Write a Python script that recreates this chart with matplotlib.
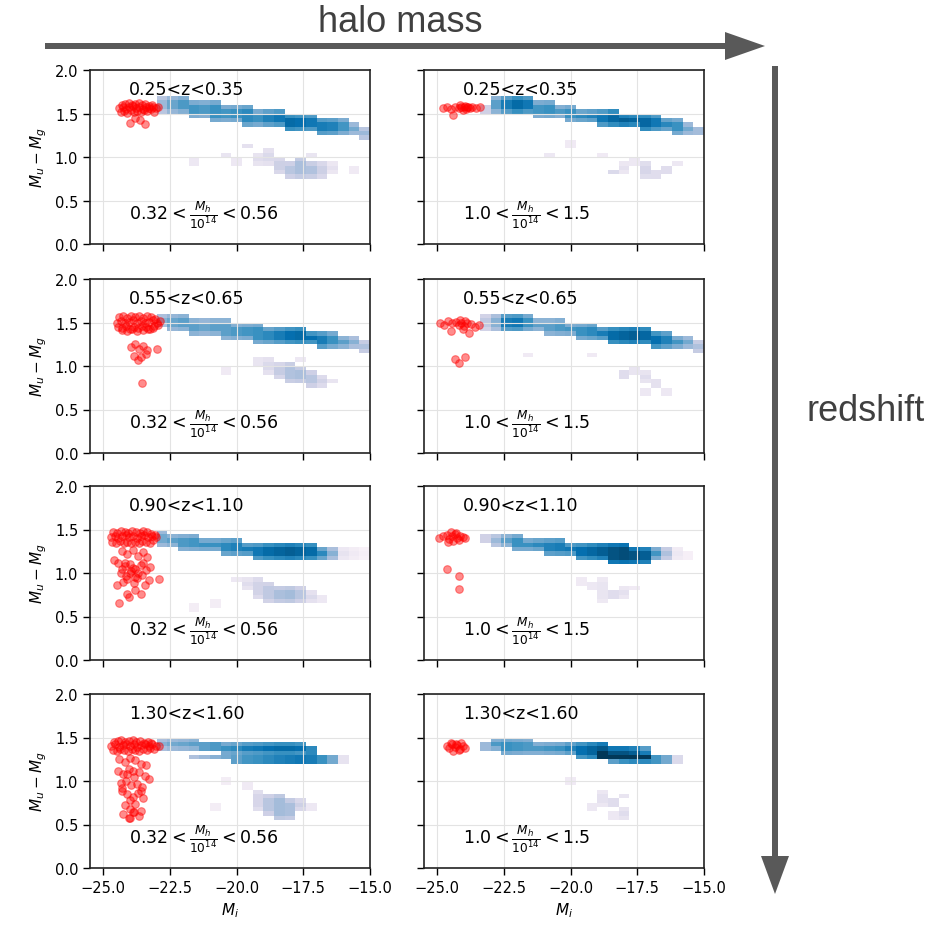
import matplotlib

matplotlib.use("Agg")

import matplotlib.pyplot as plt
import numpy as np

# binning of the colour-magnitude histograms
XEDGES = np.linspace(-25.0, -15.0, 26)
YEDGES = np.linspace(0.0, 2.0, 41)

# M_i column centres used for the red-sequence ridges
COL_MI = [-23.2, -22.8, -22.4, -22.0, -21.6, -21.2, -20.8, -20.4, -20.0, -19.6, -19.2,
          -18.8, -18.4, -18.0, -17.6, -17.2, -16.8, -16.4, -16.0, -15.6, -15.2]

Z_LABELS = ["0.25<z<0.35", "0.55<z<0.65", "0.90<z<1.10", "1.30<z<1.60"]
MASS_LABELS = [r"$0.32 < \frac{M_h}{10^{14}} < 0.56$", r"$1.0 < \frac{M_h}{10^{14}} < 1.5$"]

# ---- red sequence ridges (lower / upper colour edge, counts) ----
R1L_LO = [1.53, 1.51, 1.51, 1.50, 1.48, 1.46, 1.45, 1.43, 1.42, 1.40, 1.39, 1.37, 1.35, 1.34, 1.32, 1.31, 1.29, 1.28, 1.27, 1.25, 1.23]
R1L_HI = [1.64, 1.67, 1.68, 1.67, 1.65, 1.64, 1.62, 1.60, 1.58, 1.56, 1.55, 1.53, 1.52, 1.50, 1.49, 1.47, 1.45, 1.43, 1.41, 1.38, 1.34]
R1L_N = [0, 40, 52, 58, 60, 58, 62, 60, 62, 65, 62, 68, 72, 78, 75, 72, 70, 68, 60, 50, 40]

R1R_LO = [1.51, 1.51, 1.52, 1.52, 1.51, 1.49, 1.47, 1.46, 1.44, 1.42, 1.41, 1.39, 1.37, 1.36, 1.35, 1.34, 1.32, 1.31, 1.29, 1.27, 1.25]
R1R_HI = [1.60, 1.66, 1.67, 1.68, 1.67, 1.64, 1.61, 1.59, 1.57, 1.55, 1.54, 1.52, 1.51, 1.50, 1.49, 1.48, 1.46, 1.44, 1.42, 1.39, 1.35]
R1R_N = [25, 55, 70, 78, 72, 60, 62, 58, 62, 65, 68, 72, 80, 85, 82, 80, 72, 66, 62, 50, 38]

R2L_LO = [1.48, 1.46, 1.44, 1.42, 1.40, 1.38, 1.36, 1.34, 1.33, 1.31, 1.29, 1.28, 1.27, 1.26, 1.25, 1.25, 1.24, 1.23, 1.22, 1.21, 1.19]
R2L_HI = [1.60, 1.59, 1.58, 1.56, 1.55, 1.53, 1.52, 1.51, 1.50, 1.48, 1.47, 1.45, 1.44, 1.43, 1.41, 1.40, 1.38, 1.36, 1.34, 1.32, 1.29]
R2L_N = [0, 45, 52, 55, 55, 52, 55, 55, 58, 60, 62, 65, 70, 75, 78, 75, 70, 62, 55, 45, 35]

R2R_LO = [1.44, 1.45, 1.45, 1.44, 1.43, 1.41, 1.39, 1.37, 1.36, 1.34, 1.32, 1.30, 1.28, 1.27, 1.26, 1.25, 1.24, 1.23, 1.22, 1.21, 1.20]
R2R_HI = [1.56, 1.58, 1.60, 1.60, 1.58, 1.55, 1.53, 1.52, 1.50, 1.48, 1.46, 1.45, 1.43, 1.42, 1.42, 1.41, 1.39, 1.37, 1.35, 1.33, 1.30]
R2R_N = [30, 45, 70, 72, 62, 55, 55, 58, 60, 62, 65, 70, 78, 82, 85, 80, 75, 68, 60, 50, 35]

R3L_LO = [1.35, 1.33, 1.31, 1.29, 1.27, 1.26, 1.25, 1.23, 1.22, 1.21, 1.20, 1.19, 1.18, 1.17, 1.17, 1.16, 1.17, 1.18, 1.19, 1.19, 1.19]
R3L_HI = [1.48, 1.46, 1.45, 1.43, 1.41, 1.39, 1.38, 1.37, 1.36, 1.35, 1.34, 1.34, 1.33, 1.32, 1.32, 1.31, 1.30, 1.28, 1.27, 1.26, 1.26]
R3L_N = [0, 50, 55, 58, 60, 62, 62, 65, 68, 70, 72, 78, 82, 85, 82, 78, 65, 45, 15, 10, 6]

R3R_LO = [1.35, 1.32, 1.30, 1.29, 1.27, 1.25, 1.24, 1.23, 1.21, 1.19, 1.17, 1.16, 1.15, 1.14, 1.14, 1.14, 1.16, 1.17, 1.18, 1.18, 1.18]
R3R_HI = [1.45, 1.44, 1.43, 1.42, 1.40, 1.38, 1.37, 1.36, 1.35, 1.34, 1.33, 1.32, 1.31, 1.31, 1.30, 1.30, 1.29, 1.27, 1.26, 1.25, 1.24]
R3R_N = [25, 40, 55, 62, 62, 65, 68, 70, 72, 75, 80, 85, 90, 92, 90, 85, 60, 35, 12, 6, 0]

R4L_LO = [1.37, 1.37, 1.37, 1.36, 1.36, 1.35, 1.35, 1.34, 1.34, 1.33, 1.33, 1.32, 1.32, 1.31, 1.31, 1.30, 0, 0, 0, 0, 0]
R4L_HI = [1.48, 1.47, 1.47, 1.46, 1.46, 1.45, 1.45, 1.44, 1.44, 1.43, 1.43, 1.42, 1.42, 1.41, 1.41, 1.40, 0, 0, 0, 0, 0]
R4L_N = [0, 45, 50, 52, 55, 55, 58, 62, 65, 70, 72, 75, 78, 78, 75, 65, 0, 0, 0, 0, 0]
R4L_LO2 = [0, 0, 0, 0, 1.26, 1.26, 1.25, 1.25, 1.24, 1.24, 1.23, 1.23, 1.22, 1.22, 1.21, 1.21, 1.21, 1.21, 1.21, 0, 0]
R4L_HI2 = [0, 0, 0, 0, 1.30, 1.30, 1.30, 1.30, 1.30, 1.30, 1.30, 1.30, 1.30, 1.30, 1.29, 1.29, 1.28, 1.27, 1.26, 0, 0]
R4L_N2 = [0, 0, 0, 0, 35, 40, 45, 50, 55, 60, 62, 65, 68, 70, 72, 70, 62, 50, 15, 0, 0]

R4R_LO = [1.35, 1.35, 1.34, 1.34, 1.33, 1.33, 1.32, 1.31, 1.30, 1.29, 1.28, 1.28, 1.27, 1.27, 1.26, 1.26, 0, 0, 0, 0, 0]
R4R_HI = [1.45, 1.47, 1.47, 1.46, 1.46, 1.45, 1.44, 1.43, 1.42, 1.42, 1.41, 1.41, 1.40, 1.40, 1.39, 1.38, 0, 0, 0, 0, 0]
R4R_N = [40, 58, 62, 60, 58, 58, 60, 62, 68, 75, 82, 88, 90, 90, 85, 70, 0, 0, 0, 0, 0]
R4R_LO2 = [0, 0, 0, 0, 0, 0, 0, 0, 0, 0, 0, 1.25, 1.24, 1.24, 1.23, 1.23, 1.22, 1.22, 1.21, 0, 0]
R4R_HI2 = [0, 0, 0, 0, 0, 0, 0, 0, 0, 0, 0, 1.31, 1.30, 1.30, 1.29, 1.29, 1.28, 1.28, 1.26, 0, 0]
R4R_N2 = [0, 0, 0, 0, 0, 0, 0, 0, 0, 0, 0, 45, 55, 62, 65, 65, 60, 50, 20, 0, 0]

# ---- blue cloud columns (M_i, colour low, colour high, counts) ----
R1L_CLOUD = [(-21.6, 0.95, 1.00, 12), (-20.4, 1.00, 1.05, 14), (-20.0, 0.95, 1.00, 12),
             (-19.6, 1.10, 1.15, 16), (-19.2, 0.90, 1.05, 18), (-18.8, 0.95, 1.10, 20),
             (-18.4, 0.80, 1.00, 26), (-18.0, 0.75, 0.95, 32), (-17.6, 0.78, 0.98, 36),
             (-17.2, 0.76, 0.95, 34), (-16.8, 0.78, 0.92, 26), (-16.4, 0.85, 0.92, 16),
             (-17.2, 1.00, 1.05, 14), (-15.6, 0.85, 0.90, 10)]
R1R_CLOUD = [(-21.0, 1.00, 1.05, 12), (-20.0, 1.15, 1.20, 10), (-18.4, 0.80, 0.85, 20),
             (-18.0, 0.85, 0.95, 16), (-17.6, 0.95, 1.00, 12), (-17.2, 0.75, 0.95, 22),
             (-16.8, 0.78, 0.85, 18), (-16.4, 0.85, 0.90, 18), (-16.0, 0.90, 0.95, 12),
             (-18.8, 1.00, 1.05, 10)]
R2L_CLOUD = [(-19.2, 1.00, 1.10, 14), (-18.8, 0.95, 1.10, 20), (-18.4, 0.88, 1.05, 28),
             (-18.0, 0.85, 1.02, 34), (-17.6, 0.80, 0.98, 36), (-17.2, 0.75, 0.95, 32),
             (-16.8, 0.75, 0.90, 24), (-16.4, 0.80, 0.85, 14), (-20.4, 0.95, 1.00, 10),
             (-17.6, 1.05, 1.10, 12)]
R2R_CLOUD = [(-21.6, 1.10, 1.15, 10), (-19.2, 1.10, 1.15, 10), (-18.0, 0.88, 0.93, 18),
             (-17.6, 0.95, 1.00, 14), (-17.2, 0.85, 0.95, 18), (-16.8, 0.78, 0.83, 16),
             (-17.2, 0.67, 0.72, 12), (-16.4, 0.70, 0.75, 12)]
R3L_CLOUD = [(-20.0, 0.90, 0.95, 12), (-19.6, 0.80, 0.95, 18), (-19.2, 0.72, 0.95, 24),
             (-18.8, 0.68, 0.90, 30), (-18.4, 0.65, 0.85, 36), (-18.0, 0.65, 0.85, 38),
             (-17.6, 0.68, 0.82, 32), (-17.2, 0.68, 0.78, 20), (-16.8, 0.70, 0.75, 12),
             (-20.8, 0.62, 0.67, 8), (-21.6, 0.60, 0.65, 8)]
R3R_CLOUD = [(-19.6, 0.88, 0.93, 10), (-19.2, 0.82, 0.87, 12), (-18.8, 0.70, 0.95, 14),
             (-18.4, 0.72, 0.80, 18), (-18.0, 0.72, 0.85, 16), (-17.6, 0.80, 0.85, 10)]
R4L_CLOUD = [(-19.6, 0.95, 1.00, 10), (-19.2, 0.70, 0.88, 22), (-18.8, 0.62, 0.85, 32),
             (-18.4, 0.60, 0.85, 38), (-18.0, 0.60, 0.80, 36), (-17.6, 0.65, 0.78, 26),
             (-17.2, 0.68, 0.73, 12), (-20.4, 0.98, 1.03, 8), (-20.8, 0.68, 0.73, 8)]
R4R_CLOUD = [(-20.0, 0.97, 1.02, 10), (-19.2, 0.70, 0.75, 12), (-18.8, 0.74, 0.88, 16),
             (-18.4, 0.72, 0.78, 18), (-18.4, 0.58, 0.63, 12), (-18.0, 0.60, 0.68, 18),
             (-18.0, 0.80, 0.85, 14)]

# ---- central galaxies (red points) ----
R1L_RED_MI = [-24.40, -24.28, -24.15, -24.02, -23.90, -23.78, -23.65, -23.52, -23.40, -23.28, -23.15, -23.02,
              -24.35, -24.22, -24.10, -23.97, -23.85, -23.72, -23.60, -23.47, -23.35, -23.22, -23.10, -22.95,
              -24.30, -24.18, -24.05, -23.92, -23.80, -23.68, -23.55, -23.42, -23.30, -23.18,
              -24.00, -23.62, -23.43, -23.80]
R1L_RED_COL = [1.56, 1.58, 1.55, 1.57, 1.59, 1.56, 1.58, 1.55, 1.57, 1.56, 1.58, 1.56,
               1.52, 1.53, 1.51, 1.54, 1.52, 1.53, 1.52, 1.54, 1.53, 1.55, 1.52, 1.57,
               1.60, 1.61, 1.62, 1.60, 1.61, 1.62, 1.60, 1.61, 1.59, 1.60,
               1.39, 1.43, 1.38, 1.45]

R1R_RED_MI = [-24.80, -24.65, -24.50, -24.35, -24.20, -24.10, -24.00, -23.92, -23.85,
              -23.78, -23.70, -23.55, -23.40, -24.05, -23.95, -23.88, -24.15, -24.40]
R1R_RED_COL = [1.56, 1.57, 1.55, 1.57, 1.56, 1.58, 1.57, 1.55, 1.58,
               1.56, 1.57, 1.56, 1.57, 1.54, 1.59, 1.57, 1.60, 1.48]

R2L_RED_MI = [-24.50, -24.35, -24.20, -24.05, -23.90, -23.75, -23.60, -23.45, -23.30, -23.15, -23.00, -22.88,
              -24.45, -24.30, -24.15, -24.00, -23.85, -23.70, -23.55, -23.40, -23.25, -23.10, -22.95,
              -24.40, -24.25, -24.10, -23.95, -23.80, -23.65, -23.50, -23.35, -23.20, -23.05,
              -24.30, -24.12, -23.92, -23.72, -23.52, -23.32, -23.12,
              -23.95, -23.80, -23.65, -23.50, -23.35, -23.85, -23.60, -23.40, -23.70, -23.00, -23.56]
R2L_RED_COL = [1.50, 1.52, 1.49, 1.51, 1.53, 1.50, 1.52, 1.49, 1.51, 1.53, 1.50, 1.52,
               1.45, 1.44, 1.46, 1.43, 1.45, 1.44, 1.46, 1.45, 1.43, 1.46, 1.47,
               1.56, 1.57, 1.55, 1.58, 1.56, 1.57, 1.55, 1.57, 1.56, 1.54,
               1.41, 1.40, 1.42, 1.40, 1.41, 1.42, 1.44,
               1.22, 1.25, 1.20, 1.23, 1.18, 1.12, 1.10, 1.14, 1.07, 1.19, 0.81]

R2R_RED_MI = [-24.90, -24.75, -24.60, -24.45, -24.30, -24.20, -24.10, -24.00, -23.90, -23.75,
              -23.60, -23.45, -24.15, -24.05, -23.95, -24.50, -23.80, -24.20, -23.96, -24.35]
R2R_RED_COL = [1.50, 1.47, 1.52, 1.49, 1.51, 1.47, 1.49, 1.46, 1.50, 1.48,
               1.45, 1.47, 1.53, 1.43, 1.52, 1.40, 1.38, 1.04, 1.10, 1.08]

R3L_RED_MI = [-24.72, -24.58, -24.44, -24.30, -24.16, -24.02, -23.88, -23.74, -23.60, -23.46, -23.32, -23.18, -23.04,
              -24.66, -24.52, -24.38, -24.24, -24.10, -23.96, -23.82, -23.68, -23.54, -23.40, -23.26, -23.12,
              -24.62, -24.48, -24.34, -24.20, -24.06, -23.92, -23.78, -23.64, -23.50, -23.36, -23.22, -23.08,
              -24.30, -24.10, -23.90, -23.70, -23.50, -23.35, -24.45, -24.20, -24.00, -23.80, -23.60, -23.40, -23.25,
              -24.35, -24.15, -23.95, -23.75, -23.55, -23.30, -24.60, -24.25, -23.85, -23.45, -22.90,
              -24.40, -24.10, -23.60, -24.50, -24.05, -23.80,
              -24.30, -24.00, -23.70, -23.90, -24.20, -23.50, -24.10, -23.80]
R3L_RED_COL = [1.41, 1.43, 1.40, 1.42, 1.44, 1.41, 1.43, 1.40, 1.42, 1.44, 1.41, 1.43, 1.41,
               1.36, 1.35, 1.37, 1.35, 1.36, 1.34, 1.36, 1.35, 1.37, 1.36, 1.35, 1.38,
               1.47, 1.46, 1.48, 1.47, 1.46, 1.48, 1.47, 1.46, 1.48, 1.47, 1.45, 1.44,
               1.25, 1.22, 1.27, 1.20, 1.24, 1.18, 1.12, 1.08, 1.10, 1.05, 1.09, 1.04, 1.07,
               1.00, 0.96, 1.02, 0.94, 0.98, 0.92, 1.15, 0.90, 0.88, 0.86, 0.93,
               0.65, 0.76, 0.76, 0.86, 0.72, 0.80,
               1.05, 1.00, 1.00, 1.06, 1.12, 1.12, 0.93, 0.95]

R3R_RED_MI = [-24.95, -24.80, -24.65, -24.55, -24.45, -24.35, -24.25, -24.15, -24.05,
              -23.95, -24.60, -24.40, -24.20, -24.50, -24.30, -24.65, -24.20, -24.20]
R3R_RED_COL = [1.40, 1.42, 1.44, 1.39, 1.42, 1.45, 1.40, 1.43, 1.41,
               1.40, 1.36, 1.37, 1.38, 1.47, 1.46, 1.05, 0.97, 0.82]

R4L_RED_MI = [-24.70, -24.56, -24.42, -24.28, -24.14, -24.00, -23.86, -23.72, -23.58, -23.44, -23.30, -23.16, -23.02,
              -24.64, -24.50, -24.36, -24.22, -24.08, -23.94, -23.80, -23.66, -23.52, -23.38, -23.24, -23.10, -22.92,
              -24.60, -24.46, -24.32, -24.18, -24.04, -23.90, -23.76, -23.62, -23.48, -23.34, -23.20,
              -24.40, -24.20, -24.00, -23.80, -23.60, -23.40,
              -24.45, -24.25, -24.05, -23.85, -23.65, -23.45, -23.30,
              -24.35, -24.15, -23.95, -23.75, -23.55,
              -24.30, -24.10, -23.90, -23.70, -23.50,
              -24.20, -24.00, -23.80, -23.60,
              -24.25, -24.05, -23.85, -23.65, -24.00,
              -24.10, -23.90, -24.30, -23.60, -24.00, -23.90]
R4L_RED_COL = [1.40, 1.42, 1.39, 1.41, 1.43, 1.40, 1.42, 1.39, 1.41, 1.43, 1.40, 1.42, 1.40,
               1.36, 1.35, 1.37, 1.36, 1.35, 1.37, 1.36, 1.35, 1.37, 1.36, 1.38, 1.37, 1.40,
               1.45, 1.46, 1.47, 1.45, 1.46, 1.47, 1.45, 1.46, 1.44, 1.45, 1.44,
               1.25, 1.22, 1.27, 1.24, 1.20, 1.18,
               1.12, 1.08, 1.14, 1.05, 1.10, 1.06, 1.02,
               0.98, 1.00, 0.95, 0.97, 0.93,
               0.88, 0.85, 0.82, 0.86, 0.80,
               0.72, 0.68, 0.74, 0.66,
               0.62, 0.58, 0.64, 0.60, 0.57,
               1.08, 1.12, 0.92, 0.88, 0.78, 0.64]

R4R_RED_MI = [-24.65, -24.55, -24.45, -24.35, -24.25, -24.15, -24.05, -23.95, -24.50, -24.30, -24.10, -24.40, -24.20]
R4R_RED_COL = [1.40, 1.38, 1.42, 1.39, 1.41, 1.37, 1.40, 1.38, 1.44, 1.43, 1.44, 1.35, 1.36]

PANELS = [
    [([(R1L_LO, R1L_HI, R1L_N)], R1L_CLOUD, R1L_RED_MI, R1L_RED_COL),
     ([(R1R_LO, R1R_HI, R1R_N)], R1R_CLOUD, R1R_RED_MI, R1R_RED_COL)],
    [([(R2L_LO, R2L_HI, R2L_N)], R2L_CLOUD, R2L_RED_MI, R2L_RED_COL),
     ([(R2R_LO, R2R_HI, R2R_N)], R2R_CLOUD, R2R_RED_MI, R2R_RED_COL)],
    [([(R3L_LO, R3L_HI, R3L_N)], R3L_CLOUD, R3L_RED_MI, R3L_RED_COL),
     ([(R3R_LO, R3R_HI, R3R_N)], R3R_CLOUD, R3R_RED_MI, R3R_RED_COL)],
    [([(R4L_LO, R4L_HI, R4L_N), (R4L_LO2, R4L_HI2, R4L_N2)], R4L_CLOUD, R4L_RED_MI, R4L_RED_COL),
     ([(R4R_LO, R4R_HI, R4R_N), (R4R_LO2, R4R_HI2, R4R_N2)], R4R_CLOUD, R4R_RED_MI, R4R_RED_COL)],
]

FIG_W, FIG_H = 931, 928
ROW_TOP = [71, 280, 487, 695]
COL_LEFT = [90, 424]
AX_W, AX_H = 280, 174
ARROW_COLOR = "#595959"


def band_cells(mi, lo, hi, n, xs, ys, ws):
    """Fill every colour bin of one M_i column that overlaps [lo, hi]."""
    ycent = 0.5 * (YEDGES[:-1] + YEDGES[1:])
    rows = ycent[(YEDGES[1:] > lo) & (YEDGES[:-1] < hi)]
    for k, yc in enumerate(rows):
        outer = len(rows) > 2 and k in (0, len(rows) - 1)
        xs.append(mi)
        ys.append(yc)
        ws.append(n * (0.8 if outer else 1.0))


def histogram_samples(bands, cloud):
    xs, ys, ws = [], [], []
    for lo_list, hi_list, n_list in bands:
        for mi, lo, hi, n in zip(COL_MI, lo_list, hi_list, n_list):
            if n > 0:
                band_cells(mi, lo, hi, n, xs, ys, ws)
    for mi, lo, hi, n in cloud:
        band_cells(mi, lo, hi, n, xs, ys, ws)
    return xs, ys, ws


fig = plt.figure(figsize=(FIG_W / 100, FIG_H / 100), dpi=100)

for r in range(4):
    for c in range(2):
        bands, cloud, red_mi, red_col = PANELS[r][c]
        ax = fig.add_axes([COL_LEFT[c] / FIG_W, 1 - (ROW_TOP[r] + AX_H) / FIG_H,
                           AX_W / FIG_W, AX_H / FIG_H])
        xs, ys, ws = histogram_samples(bands, cloud)
        ax.hist2d(xs, ys, bins=[XEDGES, YEDGES], weights=ws, cmap="PuBu",
                  vmin=0, vmax=100, cmin=0.5)
        ax.scatter(red_mi, red_col, s=30, color="red", alpha=0.45, linewidths=0.8, zorder=3)

        ax.set_xlim(-25.5, -15.0)
        ax.set_ylim(0.0, 2.0)
        ax.set_xticks([-25.0, -22.5, -20.0, -17.5, -15.0])
        ax.set_yticks([0.0, 0.5, 1.0, 1.5, 2.0])
        ax.grid(True, color="#e3e3e3", linewidth=0.8)
        ax.tick_params(direction="out", length=5, width=1, labelsize=10.5)
        for sp in ax.spines.values():
            sp.set_linewidth(1.2)
            sp.set_color("#222222")

        ax.text(-24.05, 1.78, Z_LABELS[r], fontsize=12.5, va="center", ha="left", zorder=4)
        ax.text(-24.05, 0.34, MASS_LABELS[c], fontsize=12.5, va="center", ha="left", zorder=4)

        if c == 0:
            ax.set_ylabel(r"$M_u - M_g$", fontsize=11)
        else:
            ax.tick_params(labelleft=False)
        if r == 3:
            ax.set_xlabel(r"$M_i$", fontsize=11)
        else:
            ax.tick_params(labelbottom=False)

# annotation layer in pixel units
over = fig.add_axes([0, 0, 1, 1])
over.set_xlim(0, FIG_W)
over.set_ylim(FIG_H, 0)
over.axis("off")
over.arrow(45, 47, 720, 0, width=6, head_width=28, head_length=40,
           length_includes_head=True, color=ARROW_COLOR, lw=0)
over.arrow(775, 67, 0, 828, width=6, head_width=28, head_length=38,
           length_includes_head=True, color=ARROW_COLOR, lw=0)
over.text(400, 22, "halo mass", ha="center", va="center", fontsize=26,
          family="Liberation Sans", color="#404040")
over.text(866, 412, "redshift", ha="center", va="center", fontsize=26,
          family="Liberation Sans", color="#404040")

fig.savefig("out.png", dpi=100)
